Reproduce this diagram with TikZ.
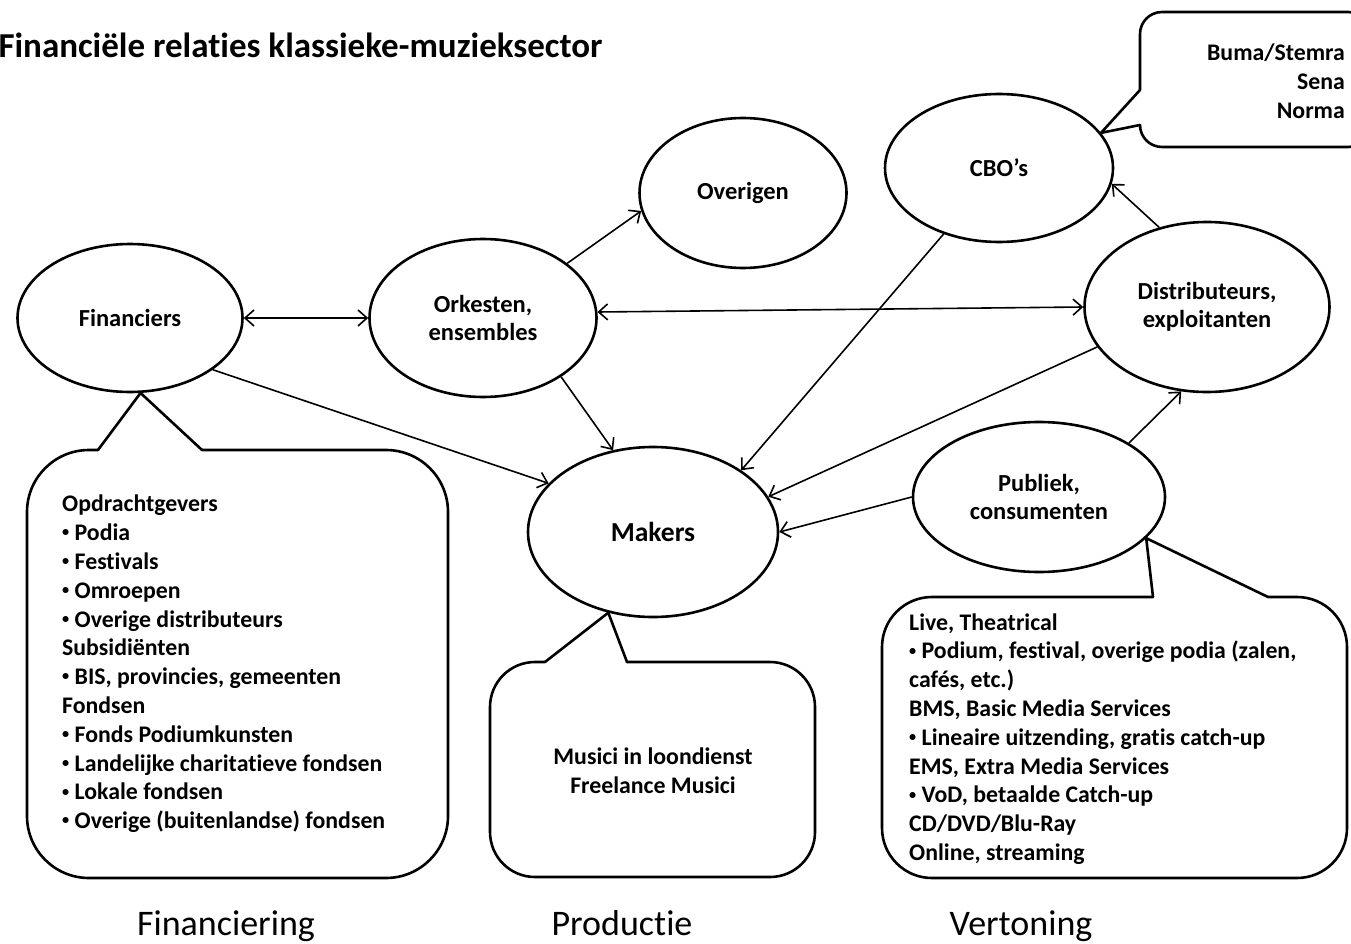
\documentclass[tikz,border=0pt]{standalone}
\usepackage{fontspec}
\setmainfont{Carlito}[Ligatures=CommonOff]
\usepackage{graphicx}
\usepackage{tikz}
\usetikzlibrary{shapes.geometric,arrows.meta}
\newcommand{\dotitem}{\raisebox{0.16em}{\scalebox{0.6}{•}}}
\tikzstyle{party} = [ellipse, draw, line width=2.6pt, inner sep=0pt, align=center, font=\bfseries\fontsize{24.5}{28}\selectfont]
\tikzstyle{flow} = [line width=1.6pt, -{Straight Barb[length=9pt,width=16pt]}]
\tikzstyle{flowboth} = [line width=1.6pt, {Straight Barb[length=9pt,width=16pt]}-{Straight Barb[length=9pt,width=16pt]}]
\tikzstyle{balloon} = [line width=2.6pt, line join=round, line cap=round]
\tikzstyle{listtext} = [inner sep=0pt, align=left, font=\bfseries\fontsize{23.8}{28.8}\selectfont]
\tikzstyle{phase} = [anchor=base, font=\fontsize{36}{40}\selectfont]

\begin{document}
\begin{tikzpicture}[x=1pt, y=-1pt]
\clip (0,0) rectangle (1351,944);
% Title
\node (title) [anchor=base west, font=\bfseries\fontsize{35}{40}\selectfont] at (-5,58) {Financiële relaties klassieke-muzieksector};

% Parties
\node (fin) [party, minimum width=225, minimum height=148] at (130,318) {Financiers};
\node (ork) [party, minimum width=227, minimum height=158] at (483,318) {Orkesten,\\ensembles};
\node (ove) [party, minimum width=207, minimum height=150] at (743,193) {Overigen};
\node (cbo) [party, minimum width=228, minimum height=148] at (999,168) {CBO’s};
\node (dis) [party, minimum width=245, minimum height=170] at (1207,307) {Distributeurs,\\exploitanten};
\node (pub) [party, minimum width=252, minimum height=150] at (1039,497) {Publiek,\\consumenten};
\node (mak) [party, minimum width=250, minimum height=170, font=\bfseries\fontsize{27.5}{30}\selectfont] at (653,532) {Makers};

% Money flows
\draw[flowboth] (fin.east) -- (ork.west);
\draw[flowboth] (ork.3) -- (dis.180);
\draw[flow] (ork.33) -- (ove.190);
\draw[flow] (ork.-37) -- (mak.116);
\draw[flow] (fin.-32) -- (mak.155);
\draw[flow] (cbo.230) -- (mak.35);
\draw[flow] (dis.200) -- (mak.17);
\draw[flow] (pub.west) -- (mak.east);
\draw[flow] (pub.31) -- (dis.253);
\draw[flow] (dis.121) -- (cbo.-8);

% Callout: financiers
\draw[balloon] (98,450) -- (fin.-82) -- (202,450);
\draw[balloon, rounded corners=62] (202,450) -- (448,450) -- (448,878) -- (27,878) -- (27,450) -- (98,450);
\node (finlist) [listtext, anchor=west] at (62,664) {Opdrachtgevers\\\dotitem{} Podia\\\dotitem{} Festivals\\\dotitem{} Omroepen\\\dotitem{} Overige distributeurs\\Subsidiënten\\\dotitem{} BIS, provincies, gemeenten\\Fondsen\\\dotitem{} Fonds Podiumkunsten\\\dotitem{} Landelijke charitatieve fondsen\\\dotitem{} Lokale fondsen\\\dotitem{} Overige (buitenlandse) fondsen};

% Callout: makers
\draw[balloon] (545,662) -- (mak.241) -- (627,662);
\draw[balloon, rounded corners=45] (627,662) -- (815,662) -- (815,877) -- (490,877) -- (490,662) -- (545,662);
\node (maklist) [listtext, align=center] at (653,771) {Musici in loondienst\\Freelance Musici};

% Callout: publiek
\draw[balloon] (1153,597) -- (pub.-21) -- (1268,597);
\draw[balloon, rounded corners=50] (1268,597) -- (1347,597) -- (1347,878) -- (882,878) -- (882,597) -- (1153,597);
\node (publist) [listtext, anchor=west] at (909,739) {Live, Theatrical\\\dotitem{} Podium, festival, overige podia (zalen,\\cafés, etc.)\\BMS, Basic Media Services\\\dotitem{} Lineaire uitzending, gratis catch-up\\EMS, Extra Media Services\\\dotitem{} VoD, betaalde Catch-up\\CD/DVD/Blu-Ray\\Online, streaming};

% Callout: CBO's
\draw[balloon] (1140,90) -- (cbo.19) -- (1140,125);
\draw[balloon, rounded corners=22] (1140,125) -- (1140,147) -- (1370,147) -- (1370,12) -- (1140,12) -- (1140,90);
\node (cbolist) [listtext, align=right, anchor=east] at (1345,81) {Buma/Stemra\\Sena\\Norma};

% Phases
\node (finphase) [phase] at (226,935) {Financiering};
\node (prophase) [phase] at (622,935) {Productie};
\node (verphase) [phase] at (1021,935) {Vertoning};
\end{tikzpicture}
\end{document}
